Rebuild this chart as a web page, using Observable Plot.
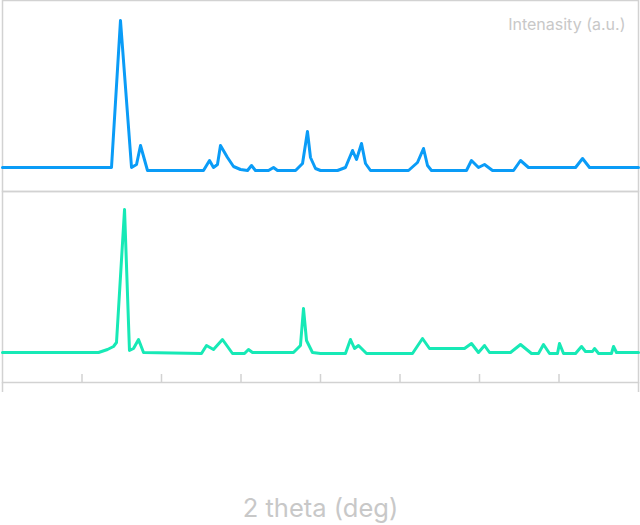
<!DOCTYPE html>
<html>
<head>
<meta charset="utf-8">
<script src="https://cdn.jsdelivr.net/npm/d3@7"></script>
<script src="https://cdn.jsdelivr.net/npm/@observablehq/plot@0.6"></script>
<style>
  html, body { margin: 0; padding: 0; background: #fff; }
</style>
</head>
<body>
<div id="chart"></div>
<script>
// Panel identifiers
const panels = ["A", "B"];

// Top pattern (blue): 2θ (deg) and intensity (a.u.)
const topDeg = [10.0, 23.71, 24.84, 26.23, 26.86, 27.36, 28.24, 35.28, 36.04, 36.54, 37.04, 37.42, 38.30, 39.06, 39.94, 40.82, 41.32, 41.82, 43.46, 44.09, 44.59, 46.86, 47.74, 48.36, 48.74, 49.37, 50.0, 52.14, 53.14, 54.03, 54.53, 55.16, 55.66, 56.29, 61.07, 62.20, 62.96, 63.46, 63.96, 68.36, 68.99, 69.87, 70.63, 71.64, 74.28, 75.16, 76.16, 82.08, 82.96, 83.84, 90.0];
const topInt = [24, 24, 171, 24, 27, 46, 21, 21, 31, 24, 27, 46, 34, 25, 22, 21, 26, 21, 21, 24, 21, 21, 28, 60, 34, 23, 21, 21, 24, 41, 32, 48, 28, 21, 21, 29, 43, 26, 21, 21, 31, 24, 27, 21, 21, 31, 24, 24, 33, 24, 24];

// Bottom pattern (green): 2θ (deg) and intensity (a.u.)
const botDeg = [10.0, 22.08, 23.21, 23.96, 24.34, 25.35, 25.97, 26.48, 27.11, 27.74, 35.03, 35.66, 36.54, 37.67, 38.93, 40.44, 40.94, 41.45, 46.60, 47.48, 47.86, 48.24, 48.99, 50.0, 53.14, 53.77, 54.28, 54.78, 55.79, 61.57, 62.83, 63.71, 68.11, 68.99, 69.87, 70.63, 71.26, 73.90, 75.16, 76.54, 77.42, 78.05, 78.81, 79.81, 80.06, 80.57, 82.08, 82.83, 83.33, 84.21, 84.47, 84.98, 86.60, 86.86, 87.23, 90.0];
const botInt = [30, 30, 33, 36, 40, 173, 32, 34, 43, 30, 29, 37, 33, 43, 29, 29, 33, 30, 30, 37, 74, 42, 30, 29, 29, 43, 34, 37, 29, 29, 44, 34, 34, 39, 30, 37, 30, 30, 38, 29, 29, 38, 29, 29, 39, 29, 29, 36, 31, 31, 34, 29, 29, 36, 30, 30];

// Axis ticks and domains
const xDomain = [10, 90];
const xTicks = [20, 30, 40, 50, 60, 70, 80];
const xEdges = [10, 90];
const yDomain = [0, 191];

const xLabel = "2 theta (deg)";
const yLabel = "Intenasity (a.u.)";

const topData = topDeg.map((d, i) => ({deg: d, I: topInt[i], panel: "A"}));
const botData = botDeg.map((d, i) => ({deg: d, I: botInt[i], panel: "B"}));

const gray = "#d2d2d2";

const chart = Plot.plot({
  width: 640,
  height: 525,
  marginTop: 0,
  marginLeft: 2,
  marginRight: 2,
  marginBottom: 143,
  style: {fontFamily: "Inter, 'Noto Sans', sans-serif", background: "#fff"},
  x: {domain: xDomain, axis: null},
  y: {domain: yDomain, axis: null},
  fy: {domain: panels, padding: 0, axis: null},
  marks: [
    Plot.frame({stroke: gray, strokeWidth: 1.5}),
    Plot.ruleX(xTicks.map(t => ({t, panel: "B"})), {x: "t", fy: "panel", y1: 0, y2: 8, stroke: gray, strokeWidth: 1.5}),
    Plot.ruleX(xEdges.map(t => ({t, panel: "B"})), {x: "t", fy: "panel", y1: -10, y2: 0, stroke: gray, strokeWidth: 1.5}),
    Plot.line(topData, {x: "deg", y: "I", fy: "panel", stroke: "#0a9cf7", strokeWidth: 3, strokeLinejoin: "round"}),
    Plot.line(botData, {x: "deg", y: "I", fy: "panel", stroke: "#17e9b6", strokeWidth: 3, strokeLinejoin: "round"}),
    Plot.text([{label: yLabel, panel: "A"}], {text: "label", fy: "panel", frameAnchor: "top-right", textAnchor: "end", lineAnchor: "middle", dx: -13, dy: 24, fontSize: 16, fill: "#c8c8c8"}),
    Plot.text([{label: xLabel, panel: "B"}], {text: "label", fy: "panel", frameAnchor: "bottom", textAnchor: "middle", lineAnchor: "middle", dy: 126, fontSize: 25.5, fill: "#c8c8c8"})
  ]
});

document.getElementById("chart").appendChild(chart);
</script>
</body>
</html>
